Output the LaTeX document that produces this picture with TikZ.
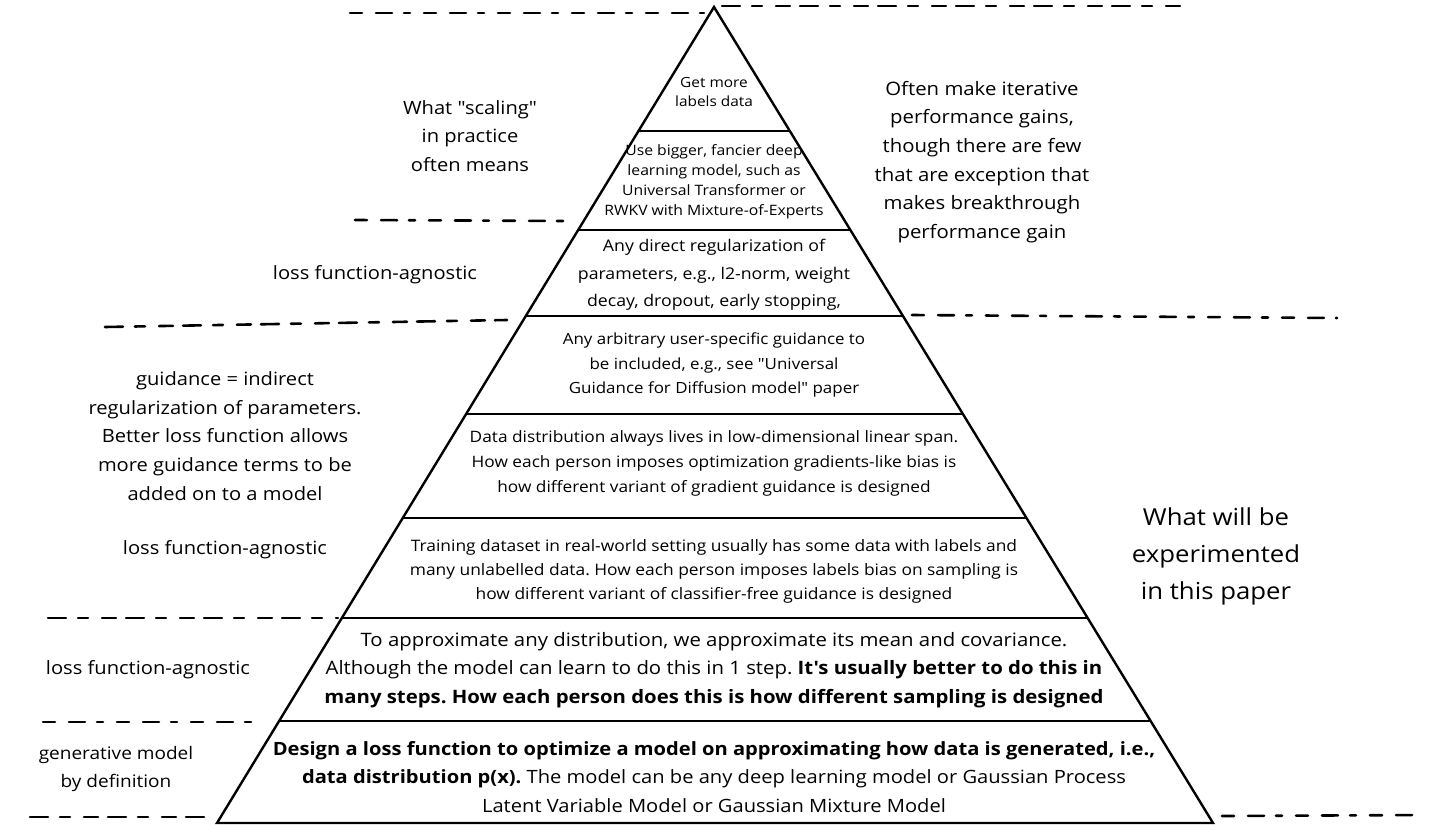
\documentclass[tikz,border=0pt]{standalone}
\usepackage{fontspec}
\newfontfamily\os{Open Sans}[FakeStretch=1.1]
\usetikzlibrary{calc}
\begin{document}
\frenchspacing
\begin{tikzpicture}[x=1pt,y=-1pt,
  edge/.style={line width=2.4pt, line join=miter},
  sep/.style={line width=2.2pt},
  dl/.style={line width=2.6pt, line cap=round, dash pattern=on 12pt off 14pt on 16pt off 12pt on 6pt off 14pt},
  dlb/.style={line width=2.6pt, line cap=round, dash pattern=on 18pt off 12pt on 10pt off 14pt on 14pt off 10pt},
  tx/.style={align=center, inner sep=0pt},
  side/.style={align=center, inner sep=0pt, font=\os\fontsize{18.3}{28.7}\selectfont},
  big/.style={align=center, inner sep=0pt, font=\os\fontsize{23.4}{37}\selectfont}]
\useasboundingbox (0,0) rectangle (1451,830);
% pyramid
\coordinate (apex) at (714,7);
\coordinate (bl) at (217,823);
\coordinate (br) at (1213,823);
\draw[edge] (apex) -- (bl) -- (br) -- cycle;
\foreach \t [count=\i] in {0.152,0.2733,0.3787,0.4988,0.6262,0.7488,0.875}{
  \coordinate (l\i) at ($(apex)!\t!(bl)$);
  \coordinate (r\i) at ($(apex)!\t!(br)$);
  \draw[sep] (l\i) -- (r\i);
}
% dashed separators
\coordinate (d1a) at (350,13);  \coordinate (d1b) at (704,13);
\coordinate (d2a) at (722,6);   \coordinate (d2b) at (1180,6);
\coordinate (d3a) at (355,220); \coordinate (d3b) at (566,221);
\coordinate (d4a) at (105,327); \coordinate (d4b) at (507,320);
\coordinate (d5a) at (912,315); \coordinate (d5b) at (1337,318);
\coordinate (d6a) at (48,618);  \coordinate (d6b) at (338,618);
\coordinate (d7a) at (43,722);  \coordinate (d7b) at (254,722);
\coordinate (d8a) at (30,817);  \coordinate (d8b) at (212,817);
\coordinate (d9a) at (1222,816); \coordinate (d9b) at (1422,815);
\draw[dl] (d1a) -- (d1b);
\draw[dlb] (d2a) -- (d2b);
\draw[dl] (d3a) -- (d3b);
\draw[dlb] (d4a) -- (d4b);
\draw[dl] (d5a) -- (d5b);
\draw[dlb] (d6a) -- (d6b);
\draw[dl] (d7a) -- (d7b);
\draw[dlb] (d8a) -- (d8b);
\draw[dl] (d9a) -- (d9b);
% layer texts
\node[tx, font=\os\fontsize{14}{19.5}\selectfont] (t1) at (714,92) {Get more\\labels data};
\node[tx, font=\os\fontsize{14.3}{20}\selectfont] (t2) at (714,182) {Use bigger, fancier deep\\learning model, such as\\Universal Transformer or\\RWKV with Mixture-of-Experts};
\node[tx, font=\os\fontsize{16.1}{27.5}\selectfont] (t3) at (714,275) {Any direct regularization of\\parameters, e.g., l2-norm, weight\\decay, dropout, early stopping,};
\node[tx, font=\os\fontsize{15.4}{24.5}\selectfont] (t4) at (714,365) {Any arbitrary user-specific guidance to\\be included, e.g., see "Universal\\Guidance for Diffusion model" paper};
\node[tx, font=\os\fontsize{15.7}{25}\selectfont] (t5) at (714,463) {Data distribution always lives in low-dimensional linear span.\\How each person imposes optimization gradients-like bias is\\how different variant of gradient guidance is designed};
\node[tx, font=\os\fontsize{15.8}{24}\selectfont] (t6) at (714,571) {Training dataset in real-world setting usually has some data with labels and\\many unlabelled data. How each person imposes labels bias on sampling is\\how different variant of classifier-free guidance is designed};
\node[tx, font=\os\fontsize{18.5}{28.5}\selectfont] (t7) at (714,670) {To approximate any distribution, we approximate its mean and covariance.\\Although the model can learn to do this in 1 step. \textbf{It's usually better to do this in}\\\textbf{many steps. How each person does this is how different sampling is designed}};
\node[tx, font=\os\fontsize{18.3}{28.5}\selectfont] (t8) at (714,777) {\textbf{Design a loss function to optimize a model on approximating how data is generated, i.e.,}\\\textbf{data distribution p(x).} The model can be any deep learning model or Gaussian Process\\Latent Variable Model or Gaussian Mixture Model};
% side labels
\node[side] (s1) at (470,136) {What "scaling"\\in practice\\often means};
\node[side] (s2) at (375,275) {loss function-agnostic};
\node[side] (s3) at (225,436) {guidance = indirect\\regularization of parameters.\\Better loss function allows\\more guidance terms to be\\added on to a model};
\node[side] (s4) at (225,550) {loss function-agnostic};
\node[side] (s5) at (148,670) {loss function-agnostic};
\node[side, font=\os\fontsize{17.3}{28.5}\selectfont] (s6) at (116,769) {generative model\\by definition};
\node[side, font=\os\fontsize{18.5}{28.7}\selectfont] (s7) at (982,162) {Often make iterative\\performance gains,\\though there are few\\that are exception that\\makes breakthrough\\performance gain};
\node[big] (s8) at (1216,556) {What will be\\experimented\\in this paper};
\end{tikzpicture}
\end{document}
